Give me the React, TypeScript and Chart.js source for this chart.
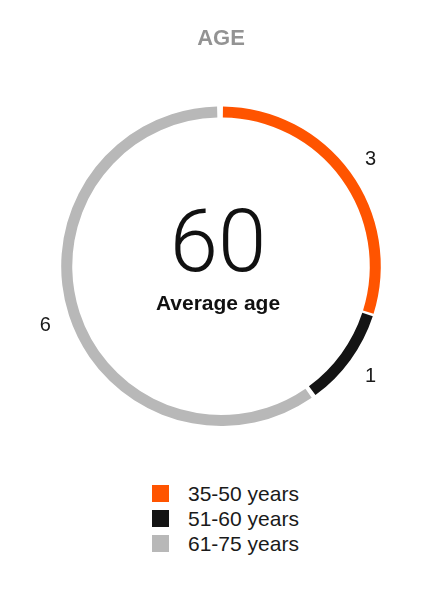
import { useEffect, useRef } from "react";
import { Chart, ChartConfiguration, registerables } from "chart.js";

Chart.register(...registerables);

const title = "AGE";
const categories = ["35-50 years", "51-60 years", "61-75 years"];
const counts = [3, 1, 6];
const colors = ["#ff5400", "#141414", "#b8b8b8"];
const averageAge = "60";
const averageLabel = "Average age";

const SANS = "'Liberation Sans', Arial, Helvetica, sans-serif";

export default function App() {
  const chartRef = useRef<HTMLCanvasElement>(null);
  const chartInstance = useRef<Chart | null>(null);

  useEffect(() => {
    if (!chartRef.current) return;

    if (chartInstance.current) {
      chartInstance.current.destroy();
    }

    const config: ChartConfiguration<"doughnut"> = {
      type: "doughnut",
      data: {
        labels: categories,
        datasets: [
          {
            data: counts,
            backgroundColor: colors,
            borderWidth: 0,
          },
        ],
      },
      options: {
        responsive: false,
        animation: false,
        cutout: "93%",
        spacing: 4,
        layout: {
          padding: { left: 60, right: 58, top: 0, bottom: 34 },
        },
        plugins: {
          legend: { display: false },
          tooltip: { enabled: false },
          title: {
            display: true,
            text: title,
            color: "#939393",
            font: { family: SANS, size: 22, weight: "bold" },
            padding: { top: 26, bottom: 54 },
          },
        },
      },
      plugins: [
        {
          id: "ringText",
          afterDraw: (chart) => {
            const { ctx } = chart;
            const meta = chart.getDatasetMeta(0);
            ctx.save();

            // value labels outside each segment
            ctx.font = `20px ${SANS}`;
            ctx.fillStyle = "#1a1a1a";
            ctx.textAlign = "center";
            ctx.textBaseline = "middle";
            meta.data.forEach((arc: any, i: number) => {
              const { x, y, startAngle, endAngle, outerRadius } = arc.getProps(
                ["x", "y", "startAngle", "endAngle", "outerRadius"],
                true
              );
              const mid = (startAngle + endAngle) / 2;
              const r = outerRadius + 27;
              ctx.fillText(String(counts[i]), x + Math.cos(mid) * r, y + Math.sin(mid) * r + 2);
            });

            // center text
            const first: any = meta.data[0];
            const cx = first.x;
            const cy = first.y;
            ctx.textBaseline = "alphabetic";
            ctx.fillStyle = "#111111";
            ctx.font = `300 87px Roboto, 'Liberation Sans', sans-serif`;
            ctx.fillText(averageAge, cx - 3, cy + 5);
            ctx.font = `bold 21px ${SANS}`;
            ctx.fillText(averageLabel, cx - 3, cy + 44);

            ctx.restore();
          },
        },
      ],
    };

    chartInstance.current = new Chart(chartRef.current, config);

    return () => {
      if (chartInstance.current) {
        chartInstance.current.destroy();
        chartInstance.current = null;
      }
    };
  }, []);

  return (
    <div
      style={{
        position: "fixed",
        top: 0,
        left: 0,
        width: 440,
        height: 594,
        background: "#ffffff",
      }}
    >
      <canvas ref={chartRef} width={440} height={460} style={{ width: 440, height: 460, display: "block" }} />
      <div
        style={{
          position: "absolute",
          top: 481,
          left: 152,
          fontFamily: SANS,
          fontSize: 21,
          color: "#1a1a1a",
        }}
      >
        {categories.map((cat, i) => (
          <div key={cat} style={{ display: "flex", alignItems: "center", height: 25 }}>
            <span
              style={{
                display: "inline-block",
                width: 17,
                height: 17,
                background: colors[i],
                marginRight: 19,
              }}
            />
            <span style={{ lineHeight: "25px" }}>{cat}</span>
          </div>
        ))}
      </div>
    </div>
  );
}
